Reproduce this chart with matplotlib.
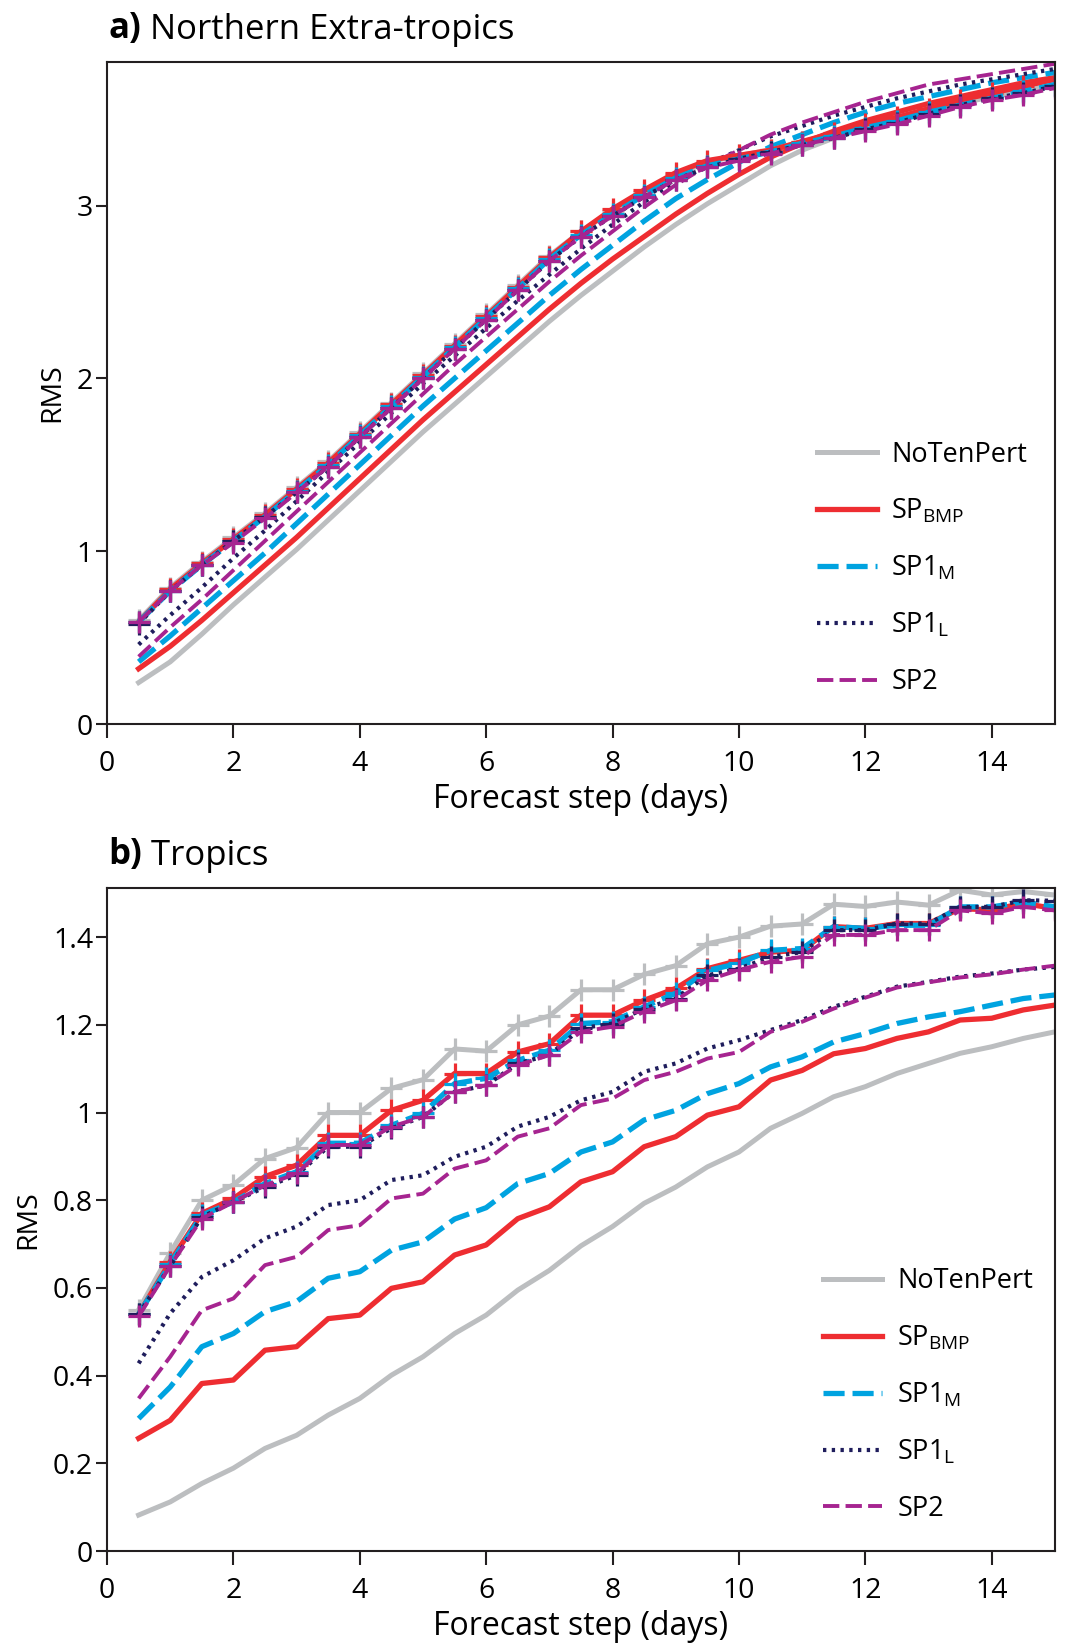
import numpy as np
import matplotlib
matplotlib.use('Agg')
import matplotlib.pyplot as plt

plt.rcParams['font.family'] = ['Open Sans', 'DejaVu Sans']
plt.rcParams['mathtext.default'] = 'regular'

# ========== data ==========
days = np.arange(0.5, 15.01, 0.5)

schemes = ['NoTenPert', 'SPBMP', 'SP1M', 'SP1L', 'SP2']
labels = ['NoTenPert', 'SP$_{BMP}$', 'SP1$_{M}$', 'SP1$_{L}$', 'SP2']

# a) Northern Extra-tropics: ensemble spread (no markers)
nh_spread_notenpert = [0.24, 0.36, 0.52, 0.69, 0.85, 1.01, 1.18, 1.35, 1.52, 1.69, 1.85, 2.01, 2.17, 2.33, 2.48,
                       2.62, 2.76, 2.89, 3.01, 3.12, 3.23, 3.32, 3.39, 3.45, 3.51, 3.56, 3.61, 3.65, 3.69, 3.73]
nh_spread_spbmp = [0.32, 0.45, 0.60, 0.76, 0.92, 1.08, 1.25, 1.42, 1.59, 1.76, 1.92, 2.08, 2.24, 2.40, 2.55,
                   2.69, 2.82, 2.95, 3.07, 3.18, 3.28, 3.36, 3.43, 3.49, 3.54, 3.59, 3.63, 3.67, 3.71, 3.74]
nh_spread_sp1m = [0.36, 0.51, 0.67, 0.83, 0.99, 1.16, 1.33, 1.50, 1.67, 1.84, 2.00, 2.16, 2.32, 2.48, 2.63,
                  2.77, 2.91, 3.04, 3.15, 3.25, 3.34, 3.41, 3.48, 3.54, 3.59, 3.63, 3.67, 3.71, 3.74, 3.77]
nh_spread_sp1l = [0.46, 0.63, 0.79, 0.96, 1.12, 1.29, 1.46, 1.63, 1.80, 1.97, 2.13, 2.29, 2.45, 2.60, 2.75,
                  2.89, 3.02, 3.14, 3.24, 3.32, 3.40, 3.46, 3.52, 3.57, 3.62, 3.66, 3.70, 3.73, 3.76, 3.79]
nh_spread_sp2 = [0.39, 0.56, 0.72, 0.89, 1.06, 1.23, 1.40, 1.57, 1.74, 1.91, 2.08, 2.24, 2.40, 2.56, 2.71,
                 2.85, 2.99, 3.12, 3.23, 3.32, 3.41, 3.48, 3.54, 3.60, 3.65, 3.70, 3.73, 3.76, 3.79, 3.82]

# a) Northern Extra-tropics: ensemble-mean RMS error (+ markers)
nh_error_notenpert = [0.60, 0.79, 0.94, 1.08, 1.22, 1.37, 1.52, 1.69, 1.86, 2.03, 2.20, 2.37, 2.54, 2.71, 2.85,
                      2.97, 3.08, 3.18, 3.25, 3.29, 3.32, 3.37, 3.41, 3.45, 3.49, 3.54, 3.59, 3.63, 3.66, 3.70]
nh_error_spbmp = [0.59, 0.78, 0.93, 1.07, 1.21, 1.36, 1.51, 1.68, 1.85, 2.02, 2.19, 2.36, 2.53, 2.70, 2.85,
                  2.98, 3.09, 3.19, 3.26, 3.29, 3.32, 3.37, 3.42, 3.47, 3.51, 3.56, 3.61, 3.65, 3.69, 3.73]
nh_error_sp1m = [0.59, 0.77, 0.92, 1.06, 1.20, 1.35, 1.50, 1.67, 1.84, 2.01, 2.18, 2.35, 2.52, 2.69, 2.83,
                 2.95, 3.06, 3.16, 3.23, 3.27, 3.31, 3.36, 3.40, 3.45, 3.49, 3.54, 3.58, 3.62, 3.66, 3.70]
nh_error_sp1l = [0.58, 0.77, 0.92, 1.06, 1.20, 1.34, 1.49, 1.66, 1.83, 2.00, 2.17, 2.34, 2.51, 2.68, 2.82,
                 2.94, 3.05, 3.15, 3.22, 3.27, 3.31, 3.35, 3.39, 3.44, 3.48, 3.53, 3.58, 3.62, 3.65, 3.69]
nh_error_sp2 = [0.59, 0.77, 0.92, 1.05, 1.19, 1.34, 1.49, 1.66, 1.83, 2.00, 2.17, 2.34, 2.51, 2.68, 2.82,
                2.94, 3.05, 3.15, 3.22, 3.26, 3.30, 3.35, 3.39, 3.43, 3.47, 3.52, 3.57, 3.61, 3.64, 3.68]

# b) Tropics: ensemble spread
tr_spread_notenpert = [0.082, 0.112, 0.154, 0.189, 0.234, 0.264, 0.310, 0.348, 0.401, 0.443, 0.496, 0.538, 0.595,
                       0.640, 0.696, 0.740, 0.793, 0.830, 0.876, 0.910, 0.964, 0.998, 1.036, 1.059, 1.089, 1.112,
                       1.135, 1.150, 1.169, 1.184]
tr_spread_spbmp = [0.257, 0.298, 0.382, 0.390, 0.458, 0.466, 0.530, 0.538, 0.599, 0.614, 0.675, 0.698, 0.758,
                   0.785, 0.842, 0.865, 0.922, 0.945, 0.994, 1.013, 1.074, 1.096, 1.134, 1.146, 1.169, 1.184,
                   1.211, 1.215, 1.234, 1.245]
tr_spread_sp1m = [0.302, 0.374, 0.466, 0.496, 0.546, 0.569, 0.622, 0.637, 0.686, 0.705, 0.757, 0.783, 0.838,
                  0.861, 0.910, 0.933, 0.983, 1.005, 1.043, 1.066, 1.104, 1.127, 1.161, 1.180, 1.203, 1.218,
                  1.230, 1.245, 1.260, 1.268]
tr_spread_sp1l = [0.428, 0.542, 0.625, 0.663, 0.713, 0.740, 0.789, 0.800, 0.846, 0.857, 0.899, 0.922, 0.968,
                  0.990, 1.028, 1.047, 1.093, 1.112, 1.146, 1.165, 1.188, 1.211, 1.241, 1.264, 1.287, 1.298,
                  1.310, 1.317, 1.326, 1.332]
tr_spread_sp2 = [0.348, 0.443, 0.549, 0.576, 0.652, 0.671, 0.732, 0.743, 0.804, 0.815, 0.872, 0.891, 0.945,
                 0.964, 1.017, 1.032, 1.074, 1.093, 1.123, 1.138, 1.184, 1.207, 1.237, 1.262, 1.285, 1.297,
                 1.308, 1.315, 1.326, 1.335]

# b) Tropics: ensemble-mean RMS error
tr_error_notenpert = [0.550, 0.680, 0.800, 0.835, 0.895, 0.920, 1.000, 1.000, 1.055, 1.075, 1.145, 1.140, 1.200,
                      1.220, 1.280, 1.280, 1.315, 1.335, 1.385, 1.400, 1.425, 1.430, 1.475, 1.470, 1.480, 1.473,
                      1.507, 1.496, 1.504, 1.496]
tr_error_spbmp = [0.540, 0.660, 0.770, 0.804, 0.854, 0.880, 0.948, 0.948, 1.005, 1.028, 1.089, 1.089, 1.138,
                  1.157, 1.222, 1.222, 1.256, 1.283, 1.328, 1.347, 1.366, 1.370, 1.424, 1.420, 1.431, 1.431,
                  1.465, 1.462, 1.477, 1.465]
tr_error_sp1m = [0.540, 0.655, 0.766, 0.796, 0.838, 0.865, 0.930, 0.930, 0.971, 0.998, 1.066, 1.078, 1.119,
                 1.142, 1.203, 1.207, 1.241, 1.272, 1.324, 1.340, 1.370, 1.374, 1.424, 1.420, 1.427, 1.427,
                 1.469, 1.469, 1.480, 1.469]
tr_error_sp1l = [0.540, 0.650, 0.762, 0.796, 0.830, 0.857, 0.922, 0.922, 0.964, 0.990, 1.047, 1.062, 1.112,
                 1.131, 1.192, 1.203, 1.237, 1.260, 1.313, 1.328, 1.355, 1.366, 1.416, 1.416, 1.431, 1.431,
                 1.469, 1.469, 1.484, 1.483]
tr_error_sp2 = [0.535, 0.650, 0.758, 0.796, 0.834, 0.861, 0.926, 0.926, 0.968, 0.990, 1.047, 1.062, 1.108,
                1.131, 1.184, 1.196, 1.230, 1.256, 1.302, 1.325, 1.344, 1.355, 1.405, 1.405, 1.416, 1.416,
                1.461, 1.454, 1.469, 1.461]

nh_spread = [nh_spread_notenpert, nh_spread_spbmp, nh_spread_sp1m, nh_spread_sp1l, nh_spread_sp2]
nh_error = [nh_error_notenpert, nh_error_spbmp, nh_error_sp1m, nh_error_sp1l, nh_error_sp2]
tr_spread = [tr_spread_notenpert, tr_spread_spbmp, tr_spread_sp1m, tr_spread_sp1l, tr_spread_sp2]
tr_error = [tr_error_notenpert, tr_error_spbmp, tr_error_sp1m, tr_error_sp1l, tr_error_sp2]

# ========== styles ==========
# colour, linewidth, dash pattern (None = solid)
styles = {
    'NoTenPert': ('#bcbec0', 3.6, None),
    'SPBMP': ('#ee2d31', 3.8, None),
    'SP1M': ('#00a3e0', 3.8, (4.0, 1.5)),
    'SP1L': ('#1f1d5c', 3.0, (0.8, 1.3)),
    'SP2': ('#a62490', 2.8, (4.2, 1.6)),
}
SPINE = '#231f20'
TICK_FS = 20.5
LEG_FS = 19.5
LABEL_FS = 23


def draw_panel(ax, spread, error, ylim, yticks, leg_anchor):
    handles = []
    for name, lab, ys in zip(schemes, labels, spread):
        color, lw, dash = styles[name]
        line, = ax.plot(days, ys, color=color, lw=lw, label=lab)
        if dash:
            line.set_dashes(dash)
        handles.append(line)
    for name, ys in zip(schemes, error):
        color, lw, dash = styles[name]
        line, = ax.plot(days, ys, color=color, lw=lw, marker='+', ms=16, mew=2.3)
        if dash:
            line.set_dashes(dash)

    ax.set_xlim(0, 15)
    ax.set_ylim(*ylim)
    ax.set_xticks(np.arange(0, 15, 2))
    ax.set_yticks(yticks)
    ax.set_yticklabels(['%g' % v for v in yticks])
    ax.tick_params(direction='out', width=1.5, labelsize=TICK_FS, color=SPINE,
                   top=False, right=False)
    ax.tick_params(axis='x', length=10, pad=9)
    ax.tick_params(axis='y', length=8, pad=2)
    for sp in ax.spines.values():
        sp.set_linewidth(1.5)
        sp.set_color(SPINE)
    ax.set_xlabel('Forecast step (days)', fontsize=LABEL_FS, labelpad=3)
    ax.set_ylabel('RMS', fontsize=20.5, labelpad=8)

    ax.legend(handles=handles, loc='upper left', bbox_to_anchor=leg_anchor, frameon=False,
              fontsize=LEG_FS, borderpad=0, borderaxespad=0, handlelength=2.2, handletextpad=0.55,
              labelspacing=1.05)


fig = plt.figure(figsize=(10.65, 16.46), dpi=100)
ax_a = fig.add_axes([0.1005, 0.5601, 0.890, 0.4022])
ax_b = fig.add_axes([0.1005, 0.0577, 0.890, 0.4028])

draw_panel(ax_a, nh_spread, nh_error, (0, 3.83), [0, 1, 2, 3], (0.749, 0.428))
draw_panel(ax_b, tr_spread, tr_error, (0, 1.512), [0, 0.2, 0.4, 0.6, 0.8, 1.0, 1.2, 1.4], (0.755, 0.428))

# panel titles: bold letter followed by regular text
for ypos, letter, title in [(1 - 29 / 1646, 'a)', 'Northern Extra-tropics'),
                            (1 - 855 / 1646, 'b)', 'Tropics')]:
    t = fig.text(0.102, ypos, letter, fontsize=25, fontweight='bold', va='center')
    fig.add_artist(matplotlib.text.Annotation(' ' + title, xy=(1, 0), xycoords=t, va='bottom',
                                              fontsize=25))

fig.savefig('out.png', dpi=100)
plt.close(fig)
